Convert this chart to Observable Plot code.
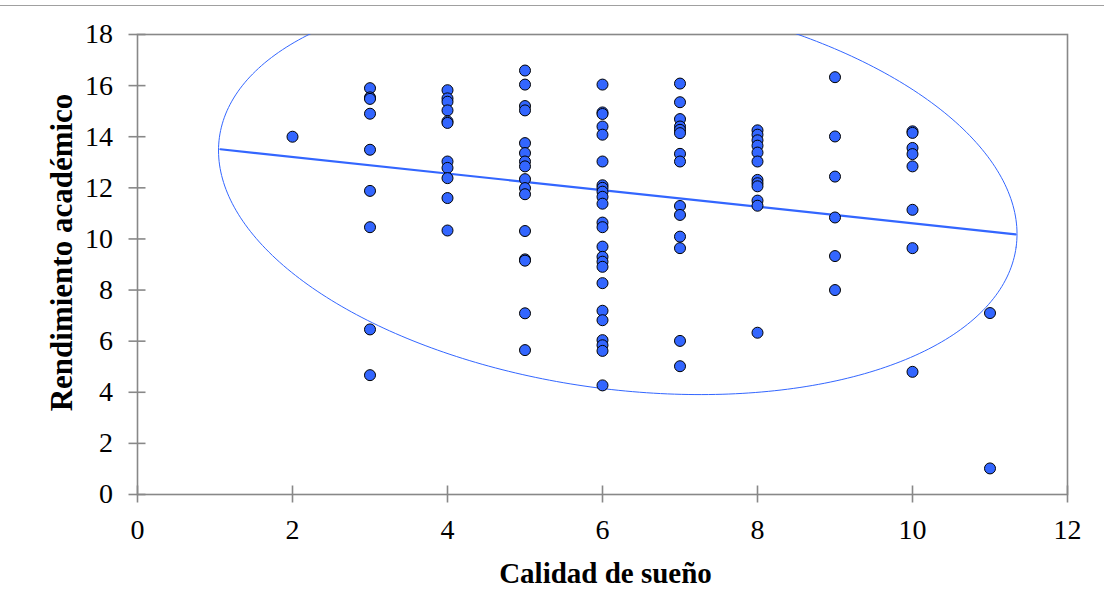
<!DOCTYPE html>
<html><head><meta charset="utf-8">
<script src="https://cdn.jsdelivr.net/npm/d3@7"></script>
<script src="https://cdn.jsdelivr.net/npm/@observablehq/plot@0.6"></script>
<style>
body{margin:0;background:#fff;position:relative;}
#chart svg{display:block;}
#topline{position:absolute;left:0;top:5px;width:1104px;height:1px;background:#a0a0a0;}
</style>
</head><body><div id="topline"></div><div id="chart"></div>
<script>
// Calidad de sueño (x) -> Rendimiento académico (y), one array per x column
const perf2 = [14.0];
const perf3 = [15.9, 15.54, 15.48, 14.9, 13.49, 11.88, 10.46, 6.46, 4.67];
const perf4 = [15.82, 15.5, 15.37, 15.03, 14.6, 14.54, 13.03, 12.78, 12.38, 11.6, 10.33];
const perf5 = [16.59, 16.04, 15.2, 15.03, 13.75, 13.36, 13.03, 12.84, 12.34, 11.99, 11.75, 10.31, 9.2, 9.15, 7.09, 5.65];
const perf6 = [16.04, 14.95, 14.89, 14.4, 14.08, 13.03, 12.1, 12.0, 11.85, 11.65, 11.38, 10.64, 10.46, 9.7, 9.3, 9.11, 8.91, 8.27, 7.19, 6.82, 6.04, 5.84, 5.62, 4.27];
const perf7 = [16.08, 15.35, 14.69, 14.4, 14.27, 14.14, 13.33, 13.03, 11.29, 10.94, 10.09, 9.64, 6.01, 5.02];
const perf8 = [14.25, 14.08, 13.86, 13.65, 13.38, 13.03, 12.31, 12.18, 12.06, 11.5, 11.3, 6.33];
const perf9 = [16.33, 14.01, 12.44, 10.84, 9.33, 8.0];
const perf10 = [14.21, 14.15, 13.56, 13.32, 12.84, 11.14, 9.64, 4.8];
const perf11 = [7.1, 1.02];
const sleepLevels = [2, 3, 4, 5, 6, 7, 8, 9, 10, 11];
const perfColumns = [perf2, perf3, perf4, perf5, perf6, perf7, perf8, perf9, perf10, perf11];

// Trend line endpoints (as drawn)
const trendX = [1.07, 11.33];
const trendY = [13.51, 10.18];

// Ellipse annotation: centre and half-axis vectors in data units
const ellipseCenter = [6.197, 11.827];
const ellipseMajor = [5.14, -2.15];
const ellipseMinor = [-0.346, -7.62];

const xTicks = [0, 2, 4, 6, 8, 10, 12];
const yTicks = [0, 2, 4, 6, 8, 10, 12, 14, 16, 18];

const points = [];
sleepLevels.forEach((s, i) => perfColumns[i].forEach(p => points.push({sleep: s, perf: p})));

const trend = trendX.map((x, i) => ({x, y: trendY[i]}));

const ellipse = d3.range(0, 361).map(deg => {
  const t = deg * Math.PI / 180;
  return {
    x: ellipseCenter[0] + ellipseMajor[0] * Math.cos(t) + ellipseMinor[0] * Math.sin(t),
    y: ellipseCenter[1] + ellipseMajor[1] * Math.cos(t) + ellipseMinor[1] * Math.sin(t)
  };
});

const font = "'Liberation Serif', 'Times New Roman', serif";
const blue = "#3366ff";

const chart = Plot.plot({
  width: 1104,
  height: 616,
  marginLeft: 137,
  marginRight: 37,
  marginTop: 34,
  marginBottom: 122,
  style: {fontFamily: font, fontSize: "28px", background: "#fff"},
  x: {domain: [0, 12]},
  y: {domain: [0, 18]},
  marks: [
    Plot.frame({stroke: "#888", strokeWidth: 1.6}),
    Plot.axisY(yTicks, {tickSize: 17, dx: 8.5, tickPadding: 16, stroke: "#888", strokeWidth: 1.6, fill: "#000", fontSize: 28, label: null}),
    Plot.axisX(xTicks, {tickSize: 17, dy: -8.5, tickPadding: 16, stroke: "#888", strokeWidth: 1.6, fill: "#000", fontSize: 28, label: null}),
    Plot.line(ellipse, {x: "x", y: "y", stroke: blue, strokeWidth: 1, clip: true, curve: "linear"}),
    Plot.line(trend, {x: "x", y: "y", stroke: blue, strokeWidth: 2.2}),
    Plot.dot(points, {x: "sleep", y: "perf", r: 5.5, fill: blue, stroke: "#000", strokeWidth: 1}),
    Plot.text(["Rendimiento académico"], {frameAnchor: "left", textAnchor: "middle", lineAnchor: "middle", dx: -75, dy: -12, rotate: -90, fontWeight: "bold", fontSize: 31, fill: "#000"}),
    Plot.text(["Calidad de sueño"], {frameAnchor: "bottom", textAnchor: "middle", lineAnchor: "middle", dx: 3, dy: 79, fontWeight: "bold", fontSize: 29, fill: "#000"})
  ]
});
document.getElementById("chart").append(chart);
</script>
</body></html>
